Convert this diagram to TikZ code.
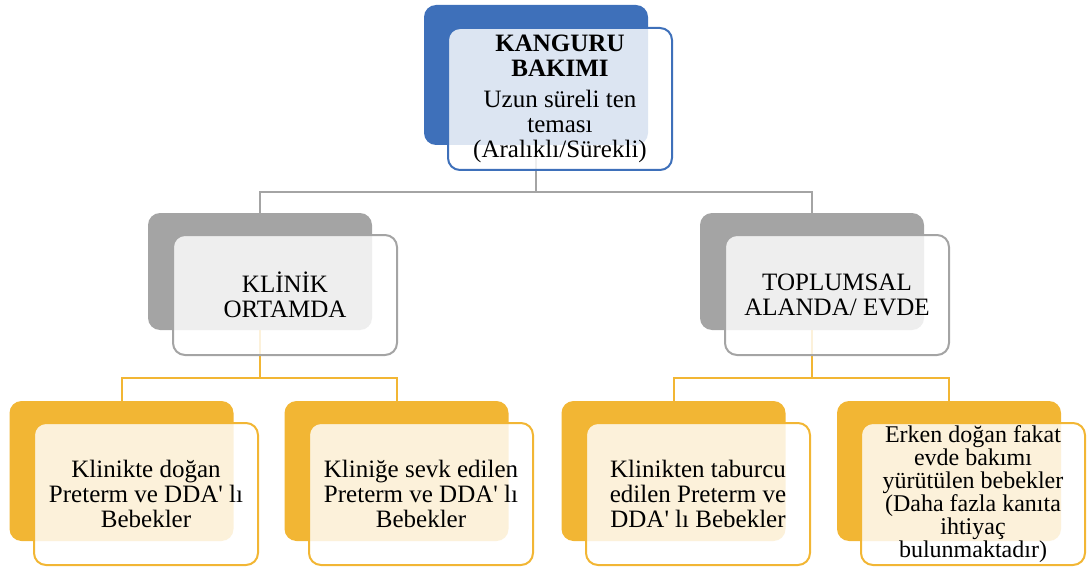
\documentclass[tikz,border=0pt]{standalone}
\usepackage{fontspec}
\setmainfont{Liberation Serif}[Ligatures=TeXOff]
\usepackage{xcolor}
\definecolor{kblue}{RGB}{62,112,186}
\definecolor{kgray}{RGB}{164,164,164}
\definecolor{korange}{RGB}{242,182,52}
\tikzset{
  backbox/.style={rounded corners=12pt, minimum width=224pt, inner sep=0pt},
  frontbox/.style={rounded corners=12pt, minimum width=224pt, inner sep=0pt,
    line width=2pt, fill=white, fill opacity=0.82, text opacity=1, align=center,
    font=\fontsize{25}{25}\selectfont},
  blueback/.style={backbox, fill=kblue, minimum height=140pt},
  bluefront/.style={frontbox, draw=kblue, minimum height=142pt},
  grayback/.style={backbox, fill=kgray, minimum height=117pt},
  grayfront/.style={frontbox, draw=kgray, minimum height=120pt},
  orangeback/.style={backbox, fill=korange, minimum height=140pt},
  orangefront/.style={frontbox, draw=korange, minimum height=142pt},
  grayline/.style={draw=kgray, line width=2pt},
  orangeline/.style={draw=korange, line width=2pt}
}
\begin{document}
\begin{tikzpicture}[x=1pt,y=-1pt]
  \useasboundingbox (0,0) rectangle (1090,567);
  % back boxes
  \node[blueback] (kb) at (536,75) {};
  \node[grayback] (kl) at (260,271.5) {};
  \node[grayback] (kt) at (812,271.5) {};
  \node[orangeback] (b1) at (121.5,471) {};
  \node[orangeback] (b2) at (396.5,471) {};
  \node[orangeback] (b3) at (673.5,471) {};
  \node[orangeback] (b4) at (949,471) {};
  % connectors
  \draw[grayline] (kb.south) -- ++(0,47) -| (kl.north);
  \draw[grayline] (kb.south) -- ++(0,47) -| (kt.north);
  \draw[orangeline] (kl.south) -- ++(0,48) -| (b1.north);
  \draw[orangeline] (kl.south) -- ++(0,48) -| (b2.north);
  \draw[orangeline] (kt.south) -- ++(0,48) -| (b3.north);
  \draw[orangeline] (kt.south) -- ++(0,48) -| (b4.north);
  % front boxes
  \node[bluefront] (kbf) at (560,99) {\textbf{KANGURU}\\\textbf{BAKIMI}\\[6pt]Uzun süreli ten\\teması\\(Aralıklı/Sürekli)};
  \node[grayfront] (klf) at (285,295) {KLİNİK\\ORTAMDA};
  \node[grayfront] (ktf) at (837,295) {TOPLUMSAL\\ALANDA/ EVDE};
  \node[orangefront] (b1f) at (146,494) {Klinikte doğan\\Preterm ve DDA' lı\\Bebekler};
  \node[orangefront] (b2f) at (421,494) {Kliniğe sevk edilen\\Preterm ve DDA' lı\\Bebekler};
  \node[orangefront] (b3f) at (698,494) {Klinikten taburcu\\edilen Preterm ve\\DDA' lı Bebekler};
  \node[orangefront, font=\fontsize{24}{23}\selectfont] (b4f) at (973,494) {Erken doğan fakat\\evde bakımı\\yürütülen bebekler\\(Daha fazla kanıta\\ihtiyaç\\bulunmaktadır)};
\end{tikzpicture}
\end{document}
